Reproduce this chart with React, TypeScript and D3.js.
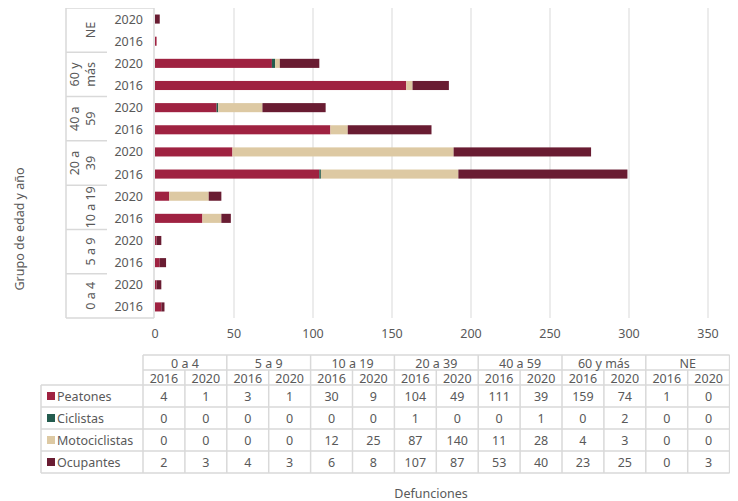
import React from "react";
import * as d3 from "d3";

const groups = ["0 a 4", "5 a 9", "10 a 19", "20 a 39", "40 a 59", "60 y más", "NE"];
const groupLines = [["0 a 4"], ["5 a 9"], ["10 a 19"], ["20 a", "39"], ["40 a", "59"], ["60 y", "más"], ["NE"]];
const years = ["2016", "2020"];
const seriesNames = ["Peatones", "Ciclistas", "Motociclistas", "Ocupantes"];
const seriesColors = ["#9F2241", "#235B4E", "#DDC9A3", "#691C32"];
// order: group0 2016, group0 2020, group1 2016, ...
const peatones = [4, 1, 3, 1, 30, 9, 104, 49, 111, 39, 159, 74, 1, 0];
const ciclistas = [0, 0, 0, 0, 0, 0, 1, 0, 0, 1, 0, 2, 0, 0];
const motociclistas = [0, 0, 0, 0, 12, 25, 87, 140, 11, 28, 4, 3, 0, 0];
const ocupantes = [2, 3, 4, 3, 6, 8, 107, 87, 53, 40, 23, 25, 0, 3];
const xTicks = [0, 50, 100, 150, 200, 250, 300, 350];
const xTitle = "Defunciones";
const yTitle = "Grupo de edad y año";

const FONT = "'Noto Sans', sans-serif";
const TXT = "#595959";
const GRID = "#d9d9d9";

export default function App() {
  const seriesValues = [peatones, ciclistas, motociclistas, ocupantes];
  const rows = groups.flatMap((g, gi) => years.map((y, yi) => ({ key: `${g}-${y}`, g, y, gi, yi, idx: gi * 2 + yi })));
  const rowsTopDown = [...rows].reverse();

  const plotTop = 8, plotBottom = 318;
  const x = d3.scaleLinear().domain([0, 350]).range([155, 708]);
  const yBand = d3.scaleBand<string>().domain(rowsTopDown.map(r => r.key)).range([plotTop, plotBottom]).paddingInner(0.59).paddingOuter(0.295);
  const yRow = d3.scaleBand<string>().domain(rowsTopDown.map(r => r.key)).range([plotTop, plotBottom]);

  const stackData = rows.map(r => {
    const o: any = { key: r.key };
    seriesNames.forEach((s, si) => (o[s] = seriesValues[si][r.idx]));
    return o;
  });
  const stacked = d3.stack().keys(seriesNames)(stackData);

  const groupH = (plotBottom - plotTop) / groups.length;
  const groupsTopDown = [...groups].reverse();

  // table
  const tX0 = 143, colW = 41.9, legX0 = 41;
  const hY0 = 355, hY1 = 370, hY2 = 385, rowH = 22;
  const nCols = groups.length * 2;

  return (
    <svg width={738} height={509} style={{ display: "block", margin: "-8px 0 0 -8px", fontFamily: FONT }}>
      {/* grid */}
      {xTicks.filter(t => t > 0).map(t => (
        <line key={t} x1={x(t)} x2={x(t)} y1={plotTop} y2={plotBottom} stroke={GRID} strokeWidth={1} />
      ))}
      {/* bars */}
      {stacked.map((layer, li) => (
        <g key={li} fill={seriesColors[li]}>
          {layer.map((d, i) => {
            const w = x(d[1]) - x(d[0]);
            if (w <= 0) return null;
            return <rect key={i} x={x(d[0])} y={yBand(stackData[i].key)} width={w} height={yBand.bandwidth()} />;
          })}
        </g>
      ))}
      {/* axis frame */}
      <line x1={154} x2={154} y1={plotTop} y2={plotBottom} stroke={GRID} strokeWidth={1.5} />
      <line x1={66} x2={66} y1={plotTop} y2={plotBottom} stroke={GRID} strokeWidth={1.5} />
      <line x1={66} x2={154} y1={plotTop} y2={plotTop} stroke={GRID} strokeWidth={1.5} />
      <line x1={66} x2={154} y1={plotBottom} y2={plotBottom} stroke={GRID} strokeWidth={1.5} />
      {groupsTopDown.slice(1).map((g, i) => (
        <line key={g} x1={66} x2={107} y1={plotTop + groupH * (i + 1)} y2={plotTop + groupH * (i + 1)} stroke={GRID} strokeWidth={1.5} />
      ))}
      {/* year labels */}
      {rowsTopDown.map(r => (
        <text key={r.key} x={143} y={(yRow(r.key) as number) + yRow.bandwidth() / 2} textAnchor="end" dominantBaseline="central" fontSize={12.5} fill={TXT}>
          {r.y}
        </text>
      ))}
      {/* group labels */}
      {groupsTopDown.map((g, i) => {
        const lines = groupLines[groups.indexOf(g)];
        const cy = plotTop + groupH * (i + 0.5);
        return lines.map((ln, li) => {
          const cx = 90 - (lines.length - 1 - li) * 16;
          return (
            <text key={g + li} transform={`translate(${cx},${cy}) rotate(-90)`} textAnchor="middle" dominantBaseline="central" fontSize={12.5} fill={TXT}>
              {ln}
            </text>
          );
        });
      })}
      {/* y title */}
      <text transform={`translate(19,229) rotate(-90)`} textAnchor="middle" dominantBaseline="central" fontSize={12.5} fill={TXT}>
        {yTitle}
      </text>
      {/* x ticks */}
      {xTicks.map(t => (
        <text key={t} x={x(t)} y={333} textAnchor="middle" dominantBaseline="central" fontSize={12.5} fill={TXT}>
          {t}
        </text>
      ))}
      {/* table */}
      <g stroke={GRID} strokeWidth={1.5} fill="none">
        <line x1={tX0} x2={tX0 + colW * nCols} y1={hY0} y2={hY0} />
        <line x1={tX0} x2={tX0 + colW * nCols} y1={hY1} y2={hY1} />
        <line x1={legX0} x2={tX0 + colW * nCols} y1={hY2} y2={hY2} />
        {seriesNames.map((s, i) => (
          <line key={s} x1={legX0} x2={tX0 + colW * nCols} y1={hY2 + rowH * (i + 1)} y2={hY2 + rowH * (i + 1)} />
        ))}
        <line x1={legX0} x2={legX0} y1={hY2} y2={hY2 + rowH * 4} />
        {d3.range(nCols + 1).map(c => (
          <line key={c} x1={tX0 + colW * c} x2={tX0 + colW * c} y1={c % 2 === 0 ? hY0 : hY1} y2={hY2 + rowH * 4} />
        ))}
      </g>
      {groups.map((g, gi) => (
        <text key={g} x={tX0 + colW * (gi * 2 + 1)} y={(hY0 + hY1) / 2 + 0.5} textAnchor="middle" dominantBaseline="central" fontSize={12.5} fill={TXT}>
          {g}
        </text>
      ))}
      {rows.map((r, ci) => (
        <text key={r.key} x={tX0 + colW * (ci + 0.5)} y={(hY1 + hY2) / 2 + 0.5} textAnchor="middle" dominantBaseline="central" fontSize={12.5} fill={TXT}>
          {r.y}
        </text>
      ))}
      {seriesNames.map((s, si) => (
        <g key={s}>
          <rect x={47} y={hY2 + rowH * (si + 0.5) - 4} width={8} height={8} fill={seriesColors[si]} />
          <text x={57} y={hY2 + rowH * (si + 0.5)} dominantBaseline="central" fontSize={12.5} fill={TXT}>
            {s}
          </text>
          {rows.map((r, ci) => (
            <text key={r.key} x={tX0 + colW * (ci + 0.5)} y={hY2 + rowH * (si + 0.5)} textAnchor="middle" dominantBaseline="central" fontSize={12.5} fill={TXT}>
              {seriesValues[si][r.idx]}
            </text>
          ))}
        </g>
      ))}
      <text x={431} y={493} textAnchor="middle" dominantBaseline="central" fontSize={12.5} fill={TXT}>
        {xTitle}
      </text>
    </svg>
  );
}
